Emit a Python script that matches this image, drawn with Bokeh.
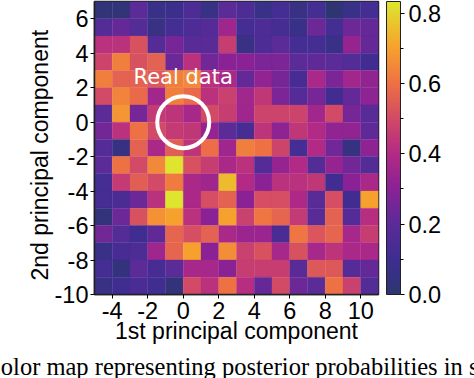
from bokeh.plotting import figure
from bokeh.models import ColumnDataSource, LinearColorMapper, ColorBar, FixedTicker, Label, Title
from bokeh.transform import transform
from bokeh.embed import file_html
from bokeh.resources import INLINE

x_edges = list(range(-5, 11))
y_tops = list(range(7, -10, -1))
grid = [
 [0.02,0.02,0.20,0.07,0.08,0.15,0.06,0.20, 0.15,0.07,0.12,0.06,0.12,0.01,0.07,0.12],
 [0.17,0.22,0.17,0.06,0.12,0.15,0.18,0.35, 0.12,0.15,0.12,0.07,0.24,0.12,0.24,0.22],
 [0.42,0.42,0.52,0.18,0.26,0.19,0.19,0.46, 0.06,0.15,0.20,0.12,0.12,0.07,0.33,0.22],
 [0.48,0.63,0.52,0.56,0.24,0.42,0.25,0.30, 0.30,0.27,0.27,0.20,0.21,0.20,0.17,0.11],
 [0.63,0.56,0.56,0.54,0.63,0.65,0.42,0.38, 0.22,0.32,0.26,0.13,0.38,0.27,0.36,0.32],
 [0.50,0.64,0.58,0.36,0.63,0.58,0.42,0.47, 0.36,0.44,0.27,0.18,0.26,0.11,0.22,0.31],
 [0.20,0.68,0.26,0.45,0.43,0.37,0.50,0.46, 0.35,0.48,0.48,0.48,0.36,0.50,0.26,0.19],
 [0.25,0.42,0.60,0.50,0.45,0.44,0.33,0.20, 0.13,0.43,0.31,0.44,0.40,0.32,0.32,0.21],
 [0.18,0.05,0.56,0.38,0.55,0.43,0.59,0.35, 0.63,0.60,0.48,0.12,0.40,0.25,0.05,0.31],
 [0.20,0.60,0.50,0.65,0.83,0.52,0.46,0.38, 0.42,0.18,0.33,0.40,0.17,0.33,0.25,0.17],
 [0.12,0.45,0.55,0.50,0.62,0.38,0.35,0.75, 0.40,0.30,0.42,0.42,0.44,0.11,0.30,0.38],
 [0.12,0.14,0.24,0.42,0.83,0.38,0.51,0.56, 0.30,0.51,0.51,0.39,0.19,0.51,0.11,0.70],
 [0.03,0.24,0.52,0.67,0.70,0.42,0.30,0.70, 0.47,0.61,0.57,0.45,0.19,0.56,0.18,0.41],
 [0.25,0.17,0.10,0.21,0.57,0.51,0.56,0.38, 0.34,0.34,0.14,0.61,0.53,0.57,0.37,0.46],
 [0.07,0.13,0.15,0.35,0.57,0.70,0.30,0.66, 0.47,0.52,0.37,0.52,0.37,0.43,0.38,0.38],
 [0.12,0.04,0.20,0.13,0.20,0.37,0.37,0.30, 0.46,0.46,0.46,0.19,0.54,0.54,0.18,0.22],
 [0.06,0.10,0.14,0.11,0.03,0.50,0.42,0.60, 0.41,0.22,0.50,0.24,0.20,0.60,0.47,0.17],
]
x_ticks = [-4, -2, 0, 2, 4, 6, 8, 10]
y_ticks = [-10, -8, -6, -4, -2, 0, 2, 4, 6]
cbar_ticks = [0.0, 0.2, 0.4, 0.6, 0.8]
cbar_minor = [0.1, 0.3, 0.5, 0.7]
stops = [(0.0,"#2d3670"),(0.1,"#3f2d92"),(0.2,"#5b2b98"),(0.3,"#8a2295"),(0.4,"#b32a85"),
         (0.5,"#d24a66"),(0.6,"#ee7044"),(0.7,"#f6a02e"),(0.833,"#dfe52e")]

def hex2rgb(h): return [int(h[i:i+2],16) for i in (1,3,5)]
palette = []
for k in range(256):
    t = k/255*0.833
    for (a,ca),(b,cb) in zip(stops, stops[1:]):
        if t <= b or b == stops[-1][0]:
            f = (t-a)/(b-a)
            r = [round(u+(v-u)*f) for u,v in zip(hex2rgb(ca),hex2rgb(cb))]
            palette.append("#%02x%02x%02x" % tuple(r))
            break
mapper = LinearColorMapper(palette=palette, low=0.0, high=0.833)

xs, ys, vs = [], [], []
for r, row in enumerate(grid):
    for c, v in enumerate(row):
        xs.append(x_edges[c]+0.5); ys.append(y_tops[r]-0.5); vs.append(v)
src = ColumnDataSource(dict(x=xs, y=ys, v=vs))

FONT = "Liberation Sans"
p = figure(width=474, height=378, x_range=(-5, 11), y_range=(-10, 7),
           output_backend="svg", toolbar_location=None,
           frame_width=284, frame_height=293,
           min_border_left=94, min_border_top=1, min_border_right=96, min_border_bottom=84,
           background_fill_color=None, border_fill_color="white",
           outline_line_color="#222222", outline_line_width=1.5)
p.rect("x", "y", 1, 1, source=src, fill_color=transform("v", mapper),
       line_color=transform("v", mapper), line_width=0.3)

for ax, ticks in ((p.xaxis[0], x_ticks), (p.yaxis[0], y_ticks)):
    ax.ticker = FixedTicker(ticks=ticks)
    ax.major_label_overrides = {t: str(t) for t in ticks}
    ax.major_label_text_font = FONT
    ax.major_label_text_font_size = "23.5px"
    ax.major_label_text_color = "black"
    ax.major_tick_out = 4; ax.major_tick_in = 0
    ax.minor_tick_out = 0; ax.minor_tick_in = 0
    ax.axis_line_color = "#222222"; ax.axis_line_width = 1.5
p.xaxis[0].axis_label = "1st principal component"
p.xaxis[0].axis_label_text_font = FONT
p.xaxis[0].axis_label_text_font_style = "normal"
p.xaxis[0].axis_label_text_font_size = "23px"
p.xaxis[0].axis_label_text_color = "black"
p.xaxis[0].axis_label_standoff = -4
p.xaxis[0].major_label_standoff = 3
p.yaxis[0].major_label_standoff = 2
p.grid.visible = False

p.add_layout(Title(text="2nd principal component", text_color="black", text_font=FONT,
                   text_font_size="23px", text_font_style="normal",
                   align="left", offset=14, standoff=-3), "left")

p.scatter([0], [0], size=52, marker="circle", fill_color=None, line_color="white", line_width=4)
p.add_layout(Label(x=-2.8, y=1.9, text="Real data", text_color="white",
                   text_font="DejaVu Sans", text_font_size="21px"))

cb = ColorBar(color_mapper=mapper, ticker=FixedTicker(ticks=cbar_ticks, minor_ticks=cbar_minor),
              width=14, height=293, padding=0, margin=0, location=(8, 0),
              major_label_text_font=FONT, major_label_text_font_size="23.5px",
              major_label_text_color="black",
              major_tick_line_color="black", major_tick_in=0, major_tick_out=4,
              minor_tick_line_color="black", minor_tick_in=0, minor_tick_out=3,
              bar_line_color="#222222", bar_line_width=1,
              label_standoff=4, title=None, major_label_overrides={t: "%.1f" % t for t in cbar_ticks})
p.add_layout(cb, "right")

p.add_layout(Title(text="Color map representing posterior probabilities in s", text_color="black",
                   text_font="Liberation Serif", text_font_size="24.5px", text_font_style="normal",
                   align="left", offset=-110, standoff=8), "below")

open("out.html", "w").write(file_html(p, INLINE))
